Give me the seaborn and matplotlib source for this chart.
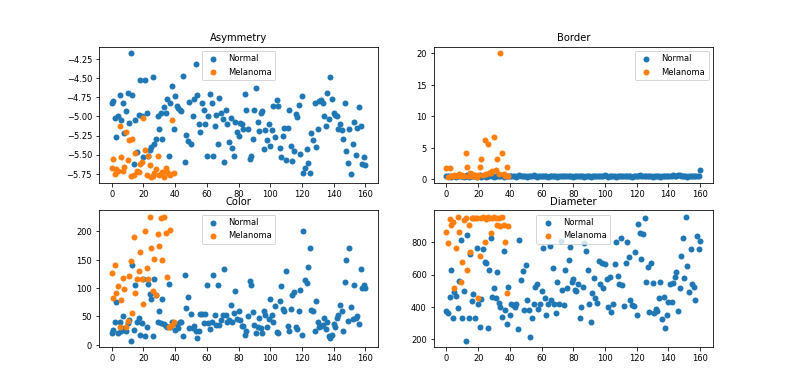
import numpy as np
import seaborn as sns
import matplotlib.pyplot as plt

# --- Normal samples (161) ---
asym_normal = [-4.82, -4.80, -5.02, -5.27, -4.99, -4.72, -5.05, -4.82, -5.21, -4.93,
               -4.70, -5.09, -4.17, -4.72, -5.62, -5.05, -5.47, -4.98, -4.53, -5.00,
               -5.53, -4.53, -4.95, -5.51, -5.44, -5.40, -4.49, -5.36, -5.30, -5.00,
               -5.16, -4.96, -5.30, -4.88, -4.96, -4.77, -5.52, -4.83, -4.60, -5.16,
               -4.74, -4.86, -4.89, -4.91, -4.93, -4.47, -5.60, -5.24, -5.32, -4.81,
               -5.36, -5.00, -4.77, -4.32, -4.72, -5.10, -5.20, -4.83, -4.91, -5.10,
               -5.52, -5.00, -4.71, -4.83, -5.52, -5.13, -4.98, -5.36, -4.76, -4.96,
               -5.04, -5.59, -4.91, -5.10, -5.33, -5.02, -5.41, -5.52, -5.07, -5.20,
               -5.25, -5.09, -5.10, -5.17, -4.71, -4.91, -5.16, -5.55, -5.51, -5.30,
               -4.91, -4.63, -5.07, -5.19, -4.95, -4.93, -5.42, -5.18, -5.31, -5.10,
               -5.38, -5.18, -4.87, -5.27, -4.78, -4.87, -5.41, -5.53, -5.25, -5.15,
               -5.57, -5.15, -4.91, -5.39, -5.58, -5.45, -4.97, -5.01, -4.85, -5.49,
               -4.74, -5.74, -5.67, -5.43, -5.61, -5.74, -5.22, -5.31, -4.82, -5.40,
               -5.17, -4.80, -4.79, -4.82, -5.00, -5.12, -4.69, -5.04, -4.48, -4.77,
               -4.96, -4.98, -5.00, -5.16, -5.10, -5.18, -5.30, -4.83, -5.45, -5.61,
               -5.17, -5.75, -5.36, -5.07, -5.50, -5.15, -4.88, -5.12, -5.62, -5.53,
               -5.63]

border_normal = [0.55, 0.48, 0.62, 0.41, 0.58, 0.50, 0.44, 0.66, 0.52, 0.47,
                 0.60, 0.39, 0.55, 0.71, 0.45, 0.53, 0.49, 0.62, 0.58, 0.43,
                 0.51, 0.67, 0.46, 0.54, 0.60, 0.42, 0.57, 0.49, 0.73, 0.52,
                 0.45, 0.61, 0.55, 0.48, 0.50, 0.64, 0.44, 0.58, 0.52, 0.47,
                 0.56, 0.62, 0.49, 0.53, 0.45, 0.58, 0.66, 0.51, 0.47, 0.55,
                 0.60, 0.43, 0.52, 0.57, 0.49, 0.63, 0.54, 0.46, 0.51, 0.59,
                 0.48, 0.55, 0.62, 0.50, 0.44, 0.57, 0.53, 0.49, 0.61, 0.52,
                 0.46, 0.55, 0.58, 0.50, 0.47, 0.60, 0.53, 0.48, 0.56, 0.51,
                 0.45, 0.59, 0.52, 0.48, 0.55, 0.62, 0.50, 0.46, 0.54, 0.57,
                 0.49, 0.43, 0.52, 0.58, 0.47, 0.55, 0.51, 0.60, 0.48, 0.53,
                 0.65, 0.50, 0.46, 0.56, 0.52, 0.49, 0.58, 0.45, 0.54, 0.61,
                 0.50, 0.47, 0.55, 0.52, 0.48, 0.57, 0.53, 0.44, 0.51, 0.59,
                 0.62, 0.55, 0.71, 0.50, 0.47, 0.56, 0.52, 0.60, 0.48, 0.54,
                 0.45, 0.51, 0.57, 0.49, 0.53, 0.46, 0.55, 0.61, 0.50, 0.58,
                 0.52, 0.47, 0.55, 0.63, 0.49, 0.56, 0.68, 0.74, 0.52, 0.47,
                 0.60, 0.55, 0.43, 0.51, 0.58, 0.49, 0.62, 0.53, 0.48, 0.57,
                 1.42]

color_normal = [21, 26, 41, 75, 21, 41, 24, 51, 30, 24,
                38, 44, 7, 141, 26, 106, 40, 47, 18, 38,
                116, 15, 32, 107, 89, 81, 15, 116, 88, 41,
                60, 38, 81, 36, 34, 31, 107, 31, 41, 38,
                26, 36, 29, 40, 40, 16, 124, 65, 85, 29,
                54, 29, 34, 25, 12, 24, 54, 54, 38, 54,
                106, 38, 28, 40, 124, 53, 35, 106, 35, 44,
                53, 134, 52, 41, 44, 71, 40, 56, 95, 46,
                60, 44, 34, 33, 18, 24, 50, 113, 106, 58,
                35, 21, 32, 47, 29, 21, 59, 53, 31, 45,
                81, 53, 40, 68, 22, 21, 78, 104, 64, 59,
                131, 34, 25, 64, 88, 94, 31, 28, 60, 96,
                18, 201, 115, 109, 138, 171, 62, 59, 25, 78,
                40, 31, 34, 35, 47, 28, 40, 15, 12, 18,
                36, 32, 47, 53, 71, 60, 25, 111, 150, 42,
                171, 66, 46, 106, 47, 50, 36, 134, 100, 106,
                100]

diam_normal = [375, 361, 460, 629, 334, 491, 470, 392, 561, 814,
               334, 499, 190, 845, 334, 726, 437, 478, 334, 763,
               416, 278, 450, 759, 676, 670, 268, 629, 829, 464,
               520, 454, 614, 423, 402, 340, 746, 381, 293, 526,
               350, 416, 412, 402, 416, 264, 814, 567, 623, 381,
               660, 443, 381, 216, 330, 416, 526, 540, 388, 416,
               499, 763, 454, 350, 416, 779, 443, 643, 416, 361,
               557, 416, 808, 505, 412, 629, 515, 691, 773, 557,
               573, 505, 499, 540, 330, 402, 526, 794, 746, 629,
               416, 309, 485, 581, 454, 423, 687, 540, 670, 520,
               666, 573, 402, 588, 371, 416, 666, 804, 594, 540,
               825, 536, 408, 670, 800, 711, 443, 412, 408, 738,
               350, 911, 856, 697, 852, 948, 557, 649, 367, 674,
               546, 361, 388, 375, 454, 553, 326, 464, 272, 350,
               433, 540, 433, 546, 588, 619, 375, 520, 718, 829,
               580, 959, 654, 491, 757, 540, 526, 443, 841, 757,
               808]

# --- Melanoma samples (40) ---
asym_mel = [-5.67, -5.55, -5.75, -5.68, -5.71, -5.12, -5.53, -5.71, -5.66, -5.20,
            -5.57, -5.31, -5.78, -5.30, -5.77, -5.48, -5.71, -5.72, -5.62, -5.60,
            -5.02, -5.44, -5.77, -5.51, -5.64, -5.79, -5.78, -5.74, -5.68, -5.52,
            -5.77, -5.75, -5.72, -5.79, -5.67, -5.73, -5.75, -5.77, -5.05, -5.74]

border_mel = [1.75, 0.45, 1.75, 0.55, 0.60, 0.70, 0.50, 0.65, 0.80, 0.55,
              0.70, 0.60, 4.20, 1.90, 0.60, 0.95, 0.90, 0.50, 0.75, 0.45,
              0.65, 1.90, 3.20, 0.70, 6.30, 0.80, 5.60, 1.00, 1.05, 1.30,
              6.80, 1.50, 3.20, 0.90, 20.1, 4.20, 0.90, 0.60, 1.90, 0.50]

color_mel = [126, 82, 141, 92, 103, 32, 79, 118, 98, 32,
             42, 121, 148, 57, 191, 91, 116, 131, 164, 116,
             72, 200, 135, 116, 225, 171, 95, 152, 88, 195,
             175, 224, 150, 226, 197, 119, 32, 202, 35, 40]

diam_mel = [866, 794, 944, 907, 928, 515, 763, 955, 866, 553,
            676, 938, 948, 629, 907, 742, 948, 952, 950, 953,
            454, 718, 948, 955, 800, 946, 955, 952, 856, 948,
            955, 948, 907, 953, 903, 958, 907, 804, 485, 903]

titles = ["Asymmetry", "Border", "Color", "Diameter"]
normal_sets = [asym_normal, border_normal, color_normal, diam_normal]
mel_sets = [asym_mel, border_mel, color_mel, diam_mel]
legend_locs = ["upper center", "upper right", "upper center", "upper center"]

plt.rcParams["font.size"] = 8.4
plt.rcParams["axes.titlesize"] = 10

fig, axes = plt.subplots(2, 2, figsize=(11, 5.42), dpi=72)

for ax, title, yn, ym, loc in zip(axes.flat, titles, normal_sets, mel_sets, legend_locs):
    sns.scatterplot(x=np.arange(len(yn)), y=yn, ax=ax, color="tab:blue",
                    linewidth=0, s=36, label="Normal")
    sns.scatterplot(x=np.arange(len(ym)), y=ym, ax=ax, color="tab:orange",
                    linewidth=0, s=36, label="Melanoma")
    ax.set_title(title)
    ax.set_xticks(range(0, 161, 20))
    ax.legend(loc=loc)

plt.savefig("out.png")
